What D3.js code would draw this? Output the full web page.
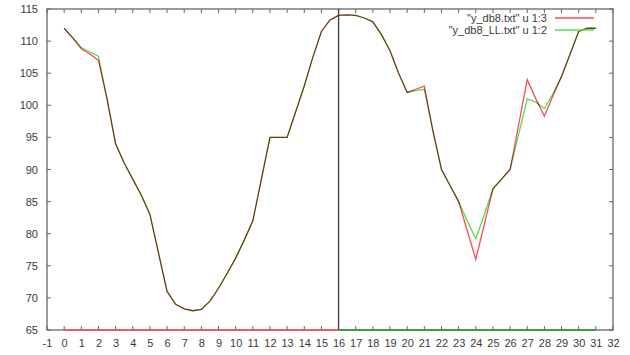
<!DOCTYPE html>
<html>
<head>
<meta charset="utf-8">
<script src="https://cdn.jsdelivr.net/npm/d3@7"></script>
<style>
  html, body { margin: 0; padding: 0; background: #fff; }
  svg { display: block; }
  text { font-family: "Liberation Sans", Arial, sans-serif; fill: #3a3a3a; }
</style>
</head>
<body>
<svg id="chart" width="630" height="355"></svg>
<script>
// Sample positions (column 1), half-step spacing
const xs = d3.range(0, 31.5, 0.5);
// "y_db8.txt" u 1:3
const seriesA = [112, 110.5, 108.8, 108, 107, 101, 94, 91, 88.5, 86, 83, 77,
                 71, 69, 68.3, 68, 68.2, 69.5, 71.5, 73.8, 76.2, 79, 82, 88.5,
                 95, 95, 95, 99, 103, 107.5, 111.5, 113.3, 114, 114.1, 114, 113.6,
                 113, 111, 108.5, 105, 102, 102.5, 103, 96, 90, 87.5, 85, 80.5,
                 76, 81.5, 87, 88.5, 90, 97, 104, 101, 98.3, 101.5, 104.5, 108,
                 111.5, 112, 112];
// "y_db8_LL.txt" u 1:2
const seriesB = [112, 110.5, 109, 108.3, 107.6, 101, 94, 91, 88.5, 86, 83, 77,
                 71, 69, 68.3, 68, 68.2, 69.5, 71.5, 73.8, 76.2, 79, 82, 88.5,
                 95, 95, 95, 99, 103, 107.5, 111.5, 113.3, 114, 114.1, 114, 113.6,
                 113, 111, 108.5, 105, 102, 102.3, 102.5, 96, 90, 87.5, 85, 82,
                 79.2, 83, 87, 88.5, 90, 95.5, 101, 100.5, 99.5, 101.8, 104.5, 108,
                 111.5, 112, 112];
// Baseline runs at the bottom of the range
const baseA = [0, 16];
const baseB = [16, 31];
const splitX = 16;

const legendLabels = ['"y_db8.txt" u 1:3', '"y_db8_LL.txt" u 1:2'];
const colors = ["#ff4a55", "#55de50"];

const xTicks = d3.range(-1, 33);
const yTicks = d3.range(65, 116, 5);

const svg = d3.select("#chart");
const m = { left: 47, right: 17, top: 9, bottom: 25 };
const W = 630, H = 355;

const x = d3.scaleLinear().domain([-1, 32]).range([m.left, W - m.right]);
const y = d3.scaleLinear().domain([65, 115]).range([H - m.bottom, m.top]);

const borderColor = "#666";
const tickLen = 4;

// Y axis labels
const yAxis = d3.axisLeft(y).tickValues(yTicks).tickSize(0).tickPadding(9);
const gy = svg.append("g").attr("transform", `translate(${m.left},0)`).call(yAxis);
gy.select(".domain").remove();
gy.selectAll("text").attr("font-size", 11).style("fill", "#3a3a3a");

// X axis labels (plain hyphen for negatives)
const xAxis = d3.axisBottom(x).tickValues(xTicks).tickSize(0).tickPadding(9).tickFormat(d => String(d));
const gx = svg.append("g").attr("transform", `translate(0,${H - m.bottom})`).call(xAxis);
gx.select(".domain").remove();
gx.selectAll("text").attr("font-size", 11).style("fill", "#3a3a3a");

// Inward ticks, mirrored on all four sides
const ticks = svg.append("g").attr("stroke", borderColor).attr("stroke-width", 1);
yTicks.forEach(v => {
  ticks.append("line").attr("x1", x(-1)).attr("x2", x(-1) + tickLen).attr("y1", y(v)).attr("y2", y(v));
  ticks.append("line").attr("x1", x(32)).attr("x2", x(32) - tickLen).attr("y1", y(v)).attr("y2", y(v));
});
xTicks.forEach(v => {
  ticks.append("line").attr("x1", x(v)).attr("x2", x(v)).attr("y1", y(65)).attr("y2", y(65) - tickLen);
  ticks.append("line").attr("x1", x(v)).attr("x2", x(v)).attr("y1", y(115)).attr("y2", y(115) + tickLen);
});

// Border
svg.append("rect")
  .attr("x", x(-1)).attr("y", y(115))
  .attr("width", x(32) - x(-1)).attr("height", y(65) - y(115))
  .attr("fill", "none").attr("stroke", borderColor).attr("stroke-width", 1.3);

const line = d3.line().x(d => x(d[0])).y(d => y(d[1]));

const plot = svg.append("g").style("isolation", "isolate");

// Split marker at the middle sample
plot.append("line")
  .attr("x1", x(splitX)).attr("x2", x(splitX))
  .attr("y1", y(65)).attr("y2", y(115))
  .attr("stroke", "#444").attr("stroke-width", 1.4);

// Series A (red)
plot.append("path").datum(xs.map((d, i) => [d, seriesA[i]]))
  .attr("d", line).attr("fill", "none").attr("stroke", colors[0]).attr("stroke-width", 1.3);
plot.append("path").datum(baseA.map(d => [d, 65]))
  .attr("d", line).attr("fill", "none").attr("stroke", colors[0]).attr("stroke-width", 1.3);

// Series B (green), multiplied over red so shared stretches read dark
plot.append("path").datum(xs.map((d, i) => [d, seriesB[i]]))
  .attr("d", line).attr("fill", "none").attr("stroke", colors[1]).attr("stroke-width", 1.3)
  .style("mix-blend-mode", "multiply");
plot.append("path").datum(baseB.map(d => [d, 65]))
  .attr("d", line).attr("fill", "none").attr("stroke", "#1f9a2a").attr("stroke-width", 1.6);

// Legend
const lg = svg.append("g");
legendLabels.forEach((t, i) => {
  const ly = 18 + i * 12;
  lg.append("text").attr("x", 547).attr("y", ly + 4).attr("text-anchor", "end")
    .attr("font-size", 11).text(t);
  lg.append("line").attr("x1", 555).attr("x2", 594).attr("y1", ly).attr("y2", ly)
    .attr("stroke", colors[i]).attr("stroke-width", 1.3);
});
</script>
</body>
</html>
